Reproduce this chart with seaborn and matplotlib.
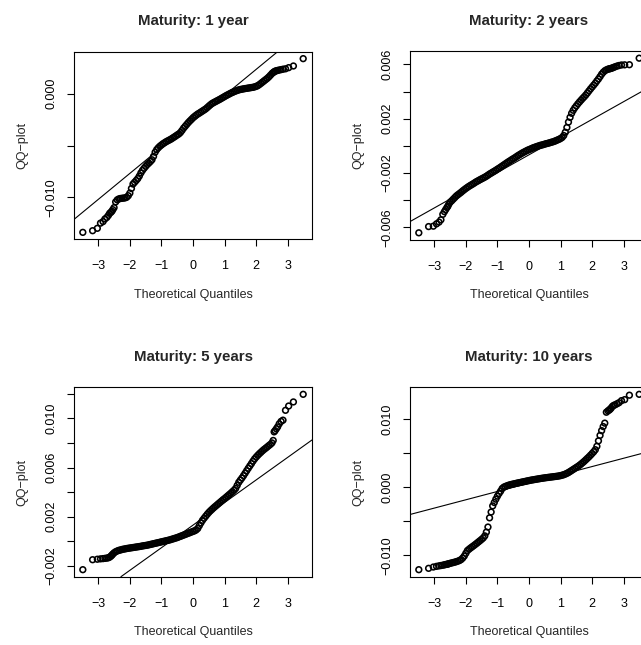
import matplotlib
matplotlib.use("Agg")
import matplotlib.pyplot as plt
import seaborn as sns
import pandas as pd

# ---------------- data ----------------
titles = ["Maturity: 1 year", "Maturity: 2 years", "Maturity: 5 years", "Maturity: 10 years"]

# theoretical normal quantiles (x axis)
theo_left = [-3.49, -3.18, -3.03, -2.93, -2.85, -2.79, -2.73, -2.68, -2.64, -2.60, -2.57, -2.54]
theo_body = [-2.50, -2.45, -2.40, -2.35, -2.30, -2.25, -2.20, -2.15, -2.10, -2.05,
             -2.00, -1.95, -1.90, -1.85, -1.80, -1.75, -1.70, -1.65, -1.60, -1.55,
             -1.50, -1.45, -1.40, -1.35, -1.30, -1.25, -1.20, -1.15, -1.10, -1.05,
             -1.00, -0.95, -0.90, -0.85, -0.80, -0.75, -0.70, -0.65, -0.60, -0.55,
             -0.50, -0.45, -0.40, -0.35, -0.30, -0.25, -0.20, -0.15, -0.10, -0.05,
             0.00, 0.05, 0.10, 0.15, 0.20, 0.25, 0.30, 0.35, 0.40, 0.45,
             0.50, 0.55, 0.60, 0.65, 0.70, 0.75, 0.80, 0.85, 0.90, 0.95,
             1.00, 1.05, 1.10, 1.15, 1.20, 1.25, 1.30, 1.35, 1.40, 1.45,
             1.50, 1.55, 1.60, 1.65, 1.70, 1.75, 1.80, 1.85, 1.90, 1.95,
             2.00, 2.05, 2.10, 2.15, 2.20, 2.25, 2.30, 2.35, 2.40, 2.45, 2.50]
theo_right = [2.54, 2.57, 2.60, 2.64, 2.68, 2.73, 2.79, 2.85, 2.93, 3.03, 3.18, 3.49]

# sample quantiles per maturity
sample_1y = [-0.01339, -0.01323, -0.01300, -0.01250, -0.01235, -0.01210, -0.01195, -0.01175, -0.01155, -0.01145, -0.01135, -0.01120,
             -0.01100, -0.01045, -0.01025, -0.01016, -0.01012, -0.01010, -0.01008, -0.01006, -0.01000, -0.00985,
             -0.00960, -0.00915, -0.00872, -0.00855, -0.00838, -0.00820, -0.00795, -0.00765, -0.00740, -0.00720,
             -0.00702, -0.00684, -0.00670, -0.00655, -0.00638, -0.00605, -0.00565, -0.00540, -0.00522, -0.00507,
             -0.00495, -0.00483, -0.00473, -0.00463, -0.00455, -0.00447, -0.00439, -0.00429, -0.00419, -0.00409,
             -0.00398, -0.00389, -0.00375, -0.00355, -0.00333, -0.00315, -0.00297, -0.00279, -0.00263, -0.00248,
             -0.00232, -0.00219, -0.00207, -0.00196, -0.00187, -0.00177, -0.00167, -0.00157, -0.00147, -0.00134,
             -0.00120, -0.00107, -0.00095, -0.00086, -0.00078, -0.00070, -0.00062, -0.00054, -0.00045, -0.00036,
             -0.00027, -0.00018, -0.00010, -0.00002, 0.00006, 0.00013, 0.00020, 0.00026, 0.00032, 0.00037,
             0.00041, 0.00044, 0.00047, 0.00050, 0.00052, 0.00055, 0.00057, 0.00060, 0.00062, 0.00066,
             0.00071, 0.00078, 0.00088, 0.00100, 0.00112, 0.00124, 0.00136, 0.00148, 0.00162, 0.00178, 0.00195,
             0.00205, 0.00212, 0.00218, 0.00222, 0.00225, 0.00229, 0.00233, 0.00237, 0.00241, 0.00252, 0.00268, 0.00339]

sample_2y = [-0.00641, -0.00595, -0.00592, -0.00575, -0.00562, -0.00545, -0.00505, -0.00485, -0.00470, -0.00455, -0.00445, -0.00430,
             -0.00416, -0.00405, -0.00393, -0.00381, -0.00369, -0.00360, -0.00351, -0.00342, -0.00332, -0.00323,
             -0.00314, -0.00306, -0.00298, -0.00291, -0.00284, -0.00277, -0.00269, -0.00262, -0.00256, -0.00249,
             -0.00243, -0.00237, -0.00231, -0.00224, -0.00216, -0.00208, -0.00201, -0.00194, -0.00187, -0.00180,
             -0.00172, -0.00165, -0.00157, -0.00149, -0.00141, -0.00133, -0.00125, -0.00117, -0.00110, -0.00102,
             -0.00095, -0.00088, -0.00080, -0.00072, -0.00065, -0.00058, -0.00051, -0.00045, -0.00039, -0.00033,
             -0.00028, -0.00023, -0.00018, -0.00013, -0.00009, -0.00005, -0.00001, 0.00003, 0.00006, 0.00009,
             0.00013, 0.00016, 0.00019, 0.00022, 0.00026, 0.00029, 0.00033, 0.00038, 0.00043, 0.00048,
             0.00054, 0.00062, 0.00076, 0.00100, 0.00135, 0.00175, 0.00210, 0.00240, 0.00262, 0.00280,
             0.00295, 0.00310, 0.00324, 0.00337, 0.00350, 0.00362, 0.00375, 0.00390, 0.00405, 0.00420,
             0.00434, 0.00448, 0.00462, 0.00478, 0.00493, 0.00510, 0.00528, 0.00542, 0.00553, 0.00560, 0.00565,
             0.00567, 0.00569, 0.00571, 0.00574, 0.00578, 0.00583, 0.00588, 0.00592, 0.00596, 0.00597, 0.00598, 0.00646]

sample_5y = [-0.00230, -0.00149, -0.00145, -0.00142, -0.00140, -0.00138, -0.00136, -0.00133, -0.00128, -0.00120, -0.00112, -0.00103,
             -0.00093, -0.00084, -0.00078, -0.00073, -0.00070, -0.00066, -0.00063, -0.00061, -0.00058, -0.00056,
             -0.00054, -0.00052, -0.00050, -0.00048, -0.00046, -0.00044, -0.00042, -0.00040, -0.00037, -0.00035,
             -0.00033, -0.00031, -0.00028, -0.00025, -0.00022, -0.00019, -0.00016, -0.00013, -0.00010, -0.00007,
             -0.00004, -0.00001, 0.00002, 0.00005, 0.00008, 0.00011, 0.00015, 0.00019, 0.00023, 0.00027,
             0.00031, 0.00036, 0.00041, 0.00046, 0.00051, 0.00056, 0.00061, 0.00066, 0.00071, 0.00076,
             0.00081, 0.00086, 0.00093, 0.00105, 0.00128, 0.00150, 0.00171, 0.00188, 0.00204, 0.00220,
             0.00235, 0.00248, 0.00260, 0.00272, 0.00283, 0.00294, 0.00305, 0.00316, 0.00327, 0.00338,
             0.00348, 0.00359, 0.00370, 0.00381, 0.00392, 0.00404, 0.00416, 0.00430, 0.00455, 0.00480,
             0.00498, 0.00515, 0.00534, 0.00554, 0.00574, 0.00594, 0.00613, 0.00632, 0.00652, 0.00670,
             0.00685, 0.00699, 0.00712, 0.00724, 0.00736, 0.00747, 0.00757, 0.00767, 0.00778, 0.00788, 0.00800,
             0.00820, 0.00890, 0.00900, 0.00915, 0.00930, 0.00955, 0.00975, 0.00985, 0.01065, 0.01100, 0.01133, 0.01195]

sample_10y = [-0.01211, -0.01191, -0.01172, -0.01162, -0.01155, -0.01150, -0.01145, -0.01140, -0.01135, -0.01132, -0.01128, -0.01124,
              -0.01118, -0.01112, -0.01106, -0.01100, -0.01093, -0.01085, -0.01076, -0.01062, -0.01040, -0.01010,
              -0.00970, -0.00930, -0.00910, -0.00892, -0.00875, -0.00858, -0.00840, -0.00822, -0.00803, -0.00785,
              -0.00765, -0.00745, -0.00715, -0.00660, -0.00585, -0.00450, -0.00365, -0.00275, -0.00225, -0.00176,
              -0.00132, -0.00093, -0.00059, -0.00020, 0.00000, 0.00010, 0.00020, 0.00028, 0.00035, 0.00041,
              0.00046, 0.00052, 0.00057, 0.00062, 0.00067, 0.00072, 0.00077, 0.00082, 0.00087, 0.00092,
              0.00097, 0.00102, 0.00106, 0.00110, 0.00114, 0.00118, 0.00122, 0.00126, 0.00130, 0.00133,
              0.00137, 0.00140, 0.00143, 0.00146, 0.00149, 0.00152, 0.00155, 0.00158, 0.00161, 0.00165,
              0.00170, 0.00176, 0.00183, 0.00192, 0.00203, 0.00215, 0.00230, 0.00245, 0.00260, 0.00275,
              0.00290, 0.00305, 0.00322, 0.00340, 0.00360, 0.00380, 0.00402, 0.00424, 0.00446, 0.00470,
              0.00495, 0.00520, 0.00550, 0.00600, 0.00680, 0.00760, 0.00830, 0.00890, 0.00940, 0.01100, 0.01120,
              0.01132, 0.01145, 0.01160, 0.01185, 0.01200, 0.01210, 0.01225, 0.01240, 0.01270, 0.01285, 0.01350, 0.01363]

samples = [sample_1y, sample_2y, sample_5y, sample_10y]

# reference lines (qqline): intercept, slope
line_intercepts = [-0.00267, -0.00066, 0.00132, 0.00059]
line_slopes = [0.002512, 0.001306, 0.001836, 0.00122]

x_ticks = [-3, -2, -1, 0, 1, 2, 3]
x_ticklabels = ["\u22123", "\u22122", "\u22121", "0", "1", "2", "3"]
y_ticks = [[-0.010, -0.005, 0.000],
           [-0.006, -0.004, -0.002, 0.000, 0.002, 0.004, 0.006],
           [-0.002, 0.000, 0.002, 0.004, 0.006, 0.008, 0.010, 0.012],
           [-0.010, -0.005, 0.000, 0.005, 0.010]]
y_ticklabels = [["\u22120.010", "", "0.000"],
                ["\u22120.006", "", "\u22120.002", "", "0.002", "", "0.006"],
                ["\u22120.002", "", "0.002", "", "0.006", "", "0.010", ""],
                ["\u22120.010", "", "0.000", "", "0.010"]]

# ---------------- style ----------------
sns.set_style("white")
plt.rcParams["font.family"] = ["Liberation Sans", "DejaVu Sans"]
plt.rcParams["axes.unicode_minus"] = True

W, H = 641, 645
fig = plt.figure(figsize=(W / 100, H / 100), dpi=100)
fig.patch.set_facecolor("white")

# axes boxes in pixels: left, top, right, bottom
boxes = [(74, 51.7, 312, 239.3), (410, 51.2, 648, 239.8),
         (74, 387.3, 312, 576.7), (410, 387.3, 648, 576.7)]

theo = theo_left + theo_body + theo_right

for i in range(4):
    l, t, r, b = boxes[i]
    ax = fig.add_axes([l / W, 1 - b / H, (r - l) / W, (b - t) / H])
    df = pd.DataFrame({"theoretical": theo, "sample": samples[i]})
    sns.scatterplot(data=df, x="theoretical", y="sample", ax=ax, s=17, marker="o",
                    facecolor="none", edgecolor="black", linewidth=1.15, legend=False)
    ax.axline((0, line_intercepts[i]), slope=line_slopes[i], color="black", lw=0.8)

    xr = max(theo) - min(theo)
    ax.set_xlim(min(theo) - 0.04 * xr, max(theo) + 0.04 * xr)
    ys = samples[i]
    yr = max(ys) - min(ys)
    ax.set_ylim(min(ys) - 0.04 * yr, max(ys) + 0.04 * yr)

    ax.set_xticks(x_ticks)
    ax.set_xticklabels(x_ticklabels)
    ax.set_yticks(y_ticks[i])
    ax.set_yticklabels(y_ticklabels[i], rotation=90, va="center")

    ax.tick_params(axis="both", which="both", direction="out", length=5, width=0.8,
                   color="black", labelsize=9, labelcolor="black", bottom=True, left=True)
    ax.tick_params(axis="x", pad=10)
    ax.tick_params(axis="y", pad=7)
    for sp in ax.spines.values():
        sp.set_color("black")
        sp.set_linewidth(0.8)
        sp.set_visible(True)

    ax.set_title(titles[i], fontsize=10.8, fontweight="bold", pad=19)
    ax.set_xlabel("Theoretical Quantiles", fontsize=9, labelpad=12)
    ax.set_ylabel("QQ\u2212plot", fontsize=9, labelpad=12)

fig.savefig("out.png", dpi=100, facecolor="white")
